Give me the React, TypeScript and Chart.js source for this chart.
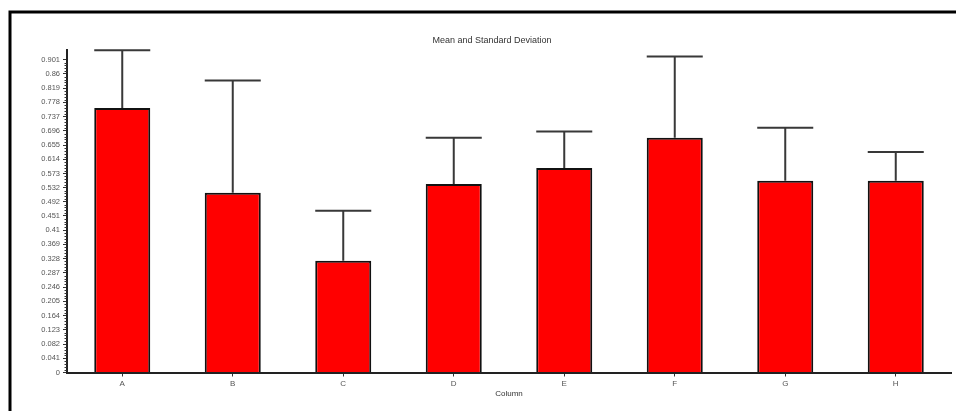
import React, { useEffect, useRef } from "react";
import { Chart, registerables } from "chart.js";

Chart.register(...registerables);

const categories = ["A", "B", "C", "D", "E", "F", "G", "H"];
const means = [0.762, 0.518, 0.322, 0.543, 0.589, 0.676, 0.552, 0.552];
const stdDevs = [0.166, 0.323, 0.144, 0.133, 0.105, 0.234, 0.153, 0.083];
const yTickLabels = [
  "0", "0.041", "0.082", "0.123", "0.164", "0.205", "0.246", "0.287", "0.328",
  "0.369", "0.41", "0.451", "0.492", "0.532", "0.573", "0.614", "0.655",
  "0.696", "0.737", "0.778", "0.819", "0.86", "0.901",
];
const chartTitle = "Mean and Standard Deviation";
const xAxisTitle = "Column";

const FONT = "'Liberation Sans', Arial, sans-serif";

export default function App() {
  const ref = useRef<HTMLCanvasElement | null>(null);

  useEffect(() => {
    const canvas = ref.current;
    if (!canvas) return;
    const tickValues = yTickLabels.map((s) => parseFloat(s));

    const decor = {
      id: "decor",
      beforeDraw(chart: any) {
        const ctx = chart.ctx;
        ctx.save();
        ctx.fillStyle = "#ffffff";
        ctx.fillRect(0, 0, chart.width, chart.height);
        ctx.restore();
      },
      afterDraw(chart: any) {
        const ctx = chart.ctx;
        const ys = chart.scales.y;
        const area = chart.chartArea;
        ctx.save();
        // minor ticks
        ctx.strokeStyle = "#333";
        ctx.lineWidth = 1;
        for (let i = 0; i < tickValues.length - 1; i++) {
          const a = tickValues[i];
          const b = tickValues[i + 1];
          for (let k = 1; k < 5; k++) {
            const v = a + ((b - a) * k) / 5;
            const py = Math.round(ys.getPixelForValue(v)) + 0.5;
            ctx.beginPath();
            ctx.moveTo(area.left - 2.5, py);
            ctx.lineTo(area.left, py);
            ctx.stroke();
          }
        }
        // frame
        ctx.strokeStyle = "#000";
        ctx.lineWidth = 3;
        ctx.beginPath();
        ctx.moveTo(10, chart.height);
        ctx.lineTo(10, 12);
        ctx.lineTo(chart.width, 12);
        ctx.stroke();
        // title
        ctx.fillStyle = "#333";
        ctx.font = `9px ${FONT}`;
        ctx.textAlign = "center";
        ctx.textBaseline = "middle";
        ctx.fillText(chartTitle, 492, 41);
        ctx.font = `8px ${FONT}`;
        ctx.fillText(xAxisTitle, (area.left + area.right) / 2, 394);
        ctx.restore();
      },
      afterDatasetsDraw(chart: any) {
        const ctx = chart.ctx;
        const ys = chart.scales.y;
        const meta = chart.getDatasetMeta(0);
        ctx.save();
        ctx.strokeStyle = "#383838";
        ctx.lineWidth = 2;
        meta.data.forEach((el: any, i: number) => {
          const top = ys.getPixelForValue(means[i] + stdDevs[i]);
          const half = el.width / 2;
          ctx.beginPath();
          ctx.moveTo(el.x, el.y);
          ctx.lineTo(el.x, top);
          ctx.moveTo(el.x - half, top);
          ctx.lineTo(el.x + half, top);
          ctx.stroke();
        });
        ctx.restore();
      },
    };

    const chart = new Chart(canvas, {
      type: "bar",
      data: {
        labels: categories,
        datasets: [
          {
            data: means,
            backgroundColor: "#ff0000",
            borderColor: "#111",
            borderWidth: 2,
            categoryPercentage: 1,
            barPercentage: 0.507,
          },
        ],
      },
      options: {
        responsive: false,
        animation: false,
        devicePixelRatio: 1,
        layout: { padding: { left: 10, right: 5, top: 50, bottom: 0 } },
        plugins: {
          legend: { display: false },
          title: { display: false },
          tooltip: { enabled: false },
        },
        scales: {
          x: {
            afterFit(scale: any) {
              scale.height = 38.5;
            },
            grid: {
              offset: false,
              drawOnChartArea: false,
              drawTicks: true,
              tickLength: 4,
              color: "#333",
            },
            border: { display: true, color: "#222", width: 2 },
            ticks: {
              color: "#555",
              font: { size: 8, family: FONT },
              padding: 2,
              maxRotation: 0,
            },
          },
          y: {
            min: 0,
            max: 0.929,
            afterFit(scale: any) {
              scale.width = 57;
            },
            afterBuildTicks(scale: any) {
              scale.ticks = tickValues.map((v) => ({ value: v }));
            },
            grid: {
              drawOnChartArea: false,
              drawTicks: true,
              tickLength: 4,
              color: "#333",
            },
            border: { display: true, color: "#222", width: 2 },
            ticks: {
              color: "#555",
              font: { size: 7.5, family: FONT },
              padding: 3,
              autoSkip: false,
              callback: (_v: any, i: number) => yTickLabels[i],
            },
          },
        },
      },
      plugins: [decor],
    });
    return () => chart.destroy();
  }, []);

  return (
    <canvas
      ref={ref}
      width={956}
      height={411}
      style={{ position: "fixed", left: 0, top: 0, width: 956, height: 411 }}
    />
  );
}
